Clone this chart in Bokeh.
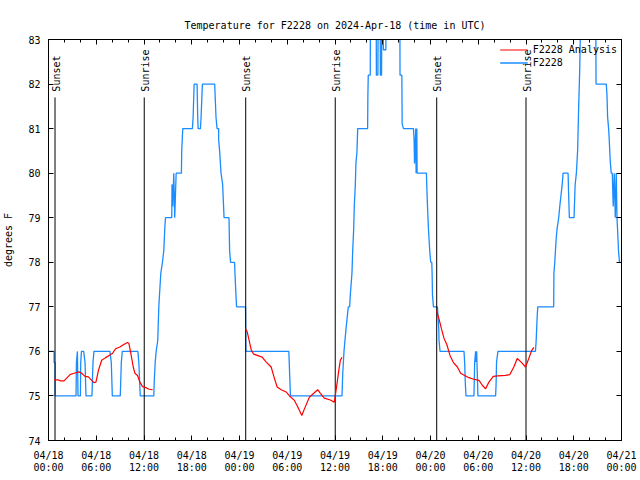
from math import pi, nan
from bokeh.plotting import figure
from bokeh.models import Range1d, FixedTicker, LinearAxis, Legend, LegendItem, CustomJSTickFormatter
from bokeh.core.properties import value
from bokeh.embed import file_html
from bokeh.resources import INLINE

# ---------------- data (hours since 2024-04-18 00:00 UTC, degrees F) ----------------
blue_hours = [0.00, 0.70, 0.70, 0.83, 0.83, 3.46, 3.51, 3.63, 3.71, 4.01, 4.05, 4.14, 4.42, 4.59, 4.71,
              5.46, 5.59, 5.71, 7.72, 7.89, 8.02, 9.02, 9.15, 9.27, 11.23, 11.35, 11.53,
              13.23, 13.28, 13.41, 13.53, 13.73, 13.86, 14.11, 14.32, 14.49, 14.61, 14.70,
              15.49, 15.52, 15.61, 15.74, 15.86, 16.04, 16.70, 16.74, 16.87,
              18.08, 18.17, 18.30, 18.67, 18.75, 18.80, 19.09, 19.17, 19.34,
              20.88, 21.05, 21.18, 21.38, 21.38, 21.50, 21.68, 21.88, 22.06,
              22.68, 22.76, 22.88, 23.38, 23.43, 23.56, 23.63, 24.76, 24.81,
              30.20, 30.40, 36.88, 36.97, 37.13, 37.38, 37.67, 37.84, 37.92, 38.13, 38.22, 38.35, 38.42,
              38.55, 38.63, 38.76, 38.85,
              40.10, 40.13, 40.18, 40.43, 40.45, 41.18, 41.20, 41.39, 41.42, 41.68, 41.70, 41.85, 41.88,
              42.06, 42.08, 42.39, 42.42,
              44.15, 44.17, 44.40, 44.44, 44.61, 45.86, 45.94, 45.99, 46.15, 46.19, 46.28, 46.32, 47.49,
              47.53, 47.62, 47.74, 47.91, 48.03, 48.16, 48.20, 48.25, 48.37, 48.87,
              49.04, 49.07, 49.20, 52.21, 52.29, 52.38, 52.46, 53.46, 53.55, 53.67, 53.73, 53.80, 53.88, 53.96,
              56.18, 56.24, 56.30, 56.47, 61.19, 61.28, 61.40, 61.48, 63.48, 63.51, 63.61, 63.78, 63.91,
              64.11, 64.24, 64.54, 64.66, 65.29, 65.36, 65.45, 66.04, 66.17, 66.33, 66.49, 66.62, 66.74, 66.87,
              68.77, 68.80, 70.09, 70.18, 70.25, 70.38, 70.46, 70.59, 70.71, 70.84, 70.96, 71.09, 71.22,
              71.34, 71.43, 71.50, 71.63, 71.75, 71.97]
blue_temps = [76.0, 76.0, 75.75, 75.75, 75.0, 75.0, 75.75, 76.0, 75.0, 75.0, 75.75, 76.0, 76.0, 75.75, 75.0,
              75.0, 75.75, 76.0, 76.0, 75.75, 75.0, 75.0, 75.75, 76.0, 76.0, 75.75, 75.0,
              75.0, 75.29, 75.76, 76.0, 76.25, 77.0, 77.75, 78.0, 78.27, 78.76, 79.0,
              79.0, 79.75, 79.25, 80.0, 79.0, 80.0, 80.0, 80.5, 81.0,
              81.0, 81.25, 82.0, 82.0, 81.25, 81.0, 81.0, 81.25, 82.0,
              82.0, 81.25, 81.0, 81.0, 80.75, 80.5, 80.0, 79.75, 79.0,
              79.0, 78.25, 78.0, 78.0, 77.75, 77.25, 77.0, 77.0, 76.0,
              76.0, 75.0, 75.0, 75.5, 76.0, 76.5, 77.0, 77.0, 77.26, 77.75, 78.24, 78.76, 79.25,
              79.73, 80.22, 80.48, 81.0,
              81.0, 81.72, 82.2, 82.2, 83.5, 83.5, 82.2, 82.2, 83.5, 83.5, 82.2, 82.2, 83.5,
              83.5, 82.77, 82.77, 83.5,
              83.5, 82.2, 82.2, 81.1, 81.0, 81.0, 80.75, 80.22, 81.0, 80.0, 81.0, 80.0, 80.0,
              79.73, 79.27, 78.76, 78.24, 78.0, 78.0, 77.77, 77.26, 77.0, 77.0,
              76.5, 76.25, 76.0, 76.0, 75.76, 75.27, 75.0, 75.0, 75.76, 76.0, 75.76, 76.0, 75.5, 75.0,
              75.0, 75.25, 75.76, 76.0, 76.0, 76.25, 76.77, 77.0, 77.0, 77.77, 77.98, 78.5, 78.76,
              79.0, 79.25, 79.73, 80.0, 80.0, 79.5, 79.0, 79.0, 79.73, 80.0, 80.52, 81.5, 82.25, 83.5,
              83.5, 82.0, 82.0, 81.73, 81.27, 81.0, 80.75, 80.26, 80.0, 80.0, 79.25, 80.0, 79.0,
              80.0, 79.0, 78.76, 78.24, 78.0, 78.0]

red_hours_1 = [0.70, 1.25, 1.45, 1.95, 2.71, 3.21, 3.83, 4.17, 4.59, 5.01, 5.43, 5.71, 5.96, 6.27, 6.68,
               7.18, 7.72, 8.06, 8.43, 8.97, 9.40, 9.94, 10.10, 10.35, 10.65, 10.85, 11.19, 11.48,
               11.82, 12.32, 12.66, 13.07]
red_temps_1 = [75.36, 75.36, 75.34, 75.34, 75.48, 75.51, 75.54, 75.51, 75.44, 75.43, 75.35, 75.30, 75.31,
               75.57, 75.80, 75.86, 75.92, 75.96, 76.06, 76.10, 76.15, 76.20, 76.18, 75.95, 75.65, 75.51,
               75.46, 75.31, 75.21, 75.18, 75.15, 75.14]
red_hours_2 = [24.76, 24.97, 25.26, 25.48, 25.76, 26.23, 26.85, 27.36, 27.98, 28.40, 28.73, 29.24, 29.86,
               30.28, 30.90, 31.33, 31.83, 32.16, 32.78, 33.33, 33.83, 34.16, 34.66, 35.41, 35.91, 36.04,
               36.25, 36.47, 36.67, 36.88]
red_temps_2 = [76.51, 76.44, 76.21, 76.03, 75.94, 75.91, 75.87, 75.76, 75.65, 75.39, 75.20, 75.14, 75.09,
               75.00, 74.90, 74.75, 74.56, 74.71, 74.97, 75.06, 75.14, 75.06, 74.95, 74.91, 74.86, 75.01,
               75.27, 75.57, 75.80, 75.87]
red_hours_3 = [48.78, 49.07, 49.37, 49.70, 50.04, 50.45, 50.88, 51.38, 51.79, 52.29, 52.83, 53.55, 54.09,
               54.51, 54.92, 55.34, 55.89, 56.47, 57.43, 57.97, 58.47, 58.90, 59.40, 59.94, 60.35, 60.69,
               60.98]
red_temps_3 = [76.91, 76.73, 76.51, 76.29, 76.16, 75.91, 75.75, 75.65, 75.51, 75.46, 75.41, 75.37, 75.35,
               75.24, 75.16, 75.31, 75.44, 75.45, 75.46, 75.48, 75.65, 75.84, 75.76, 75.65, 75.84, 76.01,
               76.09]

event_hours = [0.82, 12.03, 24.78, 36.03, 48.78, 60.0]
event_labels = ["Sunset", "Sunrise", "Sunset", "Sunrise", "Sunset", "Sunrise"]

x_tick_hours = [0, 6, 12, 18, 24, 30, 36, 42, 48, 54, 60, 66, 72]
x_tick_labels = ["04/18\n00:00", "04/18\n06:00", "04/18\n12:00", "04/18\n18:00",
                 "04/19\n00:00", "04/19\n06:00", "04/19\n12:00", "04/19\n18:00",
                 "04/20\n00:00", "04/20\n06:00", "04/20\n12:00", "04/20\n18:00",
                 "04/21\n00:00"]
x_minor_hours = [h for h in range(0, 73, 2) if h % 6 != 0]
y_ticks = [74, 75, 76, 77, 78, 79, 80, 81, 82, 83]

# ---------------- styling ----------------
FONT = "DejaVu Sans Mono"
FS = "10px"
BLUE = "#1a8cff"
RED = "#ff0000"
EVENT_TOP = 81.7
EVENT_LABEL_Y = 81.83

p = figure(width=640, height=480, output_backend="svg", toolbar_location=None,
           x_range=Range1d(0, 72), y_range=Range1d(74, 83),
           min_border_left=47, min_border_right=19, min_border_top=39, min_border_bottom=40,
           title="Temperature for F2228 on 2024-Apr-18 (time in UTC)")
p.title.text_font = FONT
p.title.text_font_size = FS
p.title.text_font_style = "normal"
p.title.text_color = "black"
p.title.align = "center"
p.title.standoff = 17
p.xgrid.visible = False
p.ygrid.visible = False
p.outline_line_color = "black"
p.outline_line_alpha = 1.0
p.background_fill_color = "white"
p.border_fill_color = "white"

xt = FixedTicker(ticks=x_tick_hours, minor_ticks=x_minor_hours)
yt = FixedTicker(ticks=y_ticks, minor_ticks=[])


def style_axis(ax):
    ax.axis_line_color = "black"
    ax.major_tick_in = 5
    ax.major_tick_out = 0
    ax.minor_tick_in = 3
    ax.minor_tick_out = 0
    ax.major_tick_line_color = "black"
    ax.minor_tick_line_color = "black"
    ax.major_label_text_font = FONT
    ax.major_label_text_font_size = FS
    ax.major_label_text_color = "black"
    ax.axis_label_text_font = FONT
    ax.axis_label_text_font_size = FS
    ax.axis_label_text_font_style = "normal"
    ax.axis_label_text_color = "black"


xa = p.xaxis[0]
xa.ticker = xt
style_axis(xa)
xa.major_label_overrides = {h: lab for h, lab in zip(x_tick_hours, x_tick_labels)}
xa.major_label_standoff = 9
xa.major_label_text_line_height = 1.1

ya = p.yaxis[0]
ya.ticker = yt
style_axis(ya)
ya.major_label_standoff = 8
ya.axis_label = "degrees F"
ya.axis_label_standoff = 11

blank = CustomJSTickFormatter(code="return ''")
top_ax = LinearAxis(ticker=xt, formatter=blank, major_label_standoff=0)
style_axis(top_ax)
p.add_layout(top_ax, "above")
right_ax = LinearAxis(ticker=yt, formatter=CustomJSTickFormatter(code="return ''"),
                      major_label_standoff=0)
style_axis(right_ax)
p.add_layout(right_ax, "right")

# data lines
r_blue = p.line(blue_hours, blue_temps, line_color=BLUE, line_width=1.3)

p.segment(x0=event_hours, y0=[74] * len(event_hours), x1=event_hours,
          y1=[EVENT_TOP] * len(event_hours), line_color="black", line_width=1)
p.text(x=event_hours, y=[EVENT_LABEL_Y] * len(event_hours), text=event_labels,
       angle=pi / 2, text_align="left", text_baseline="middle", x_offset=1,
       text_font=value(FONT), text_font_size=FS, text_color="black")

red_hours = red_hours_1 + [nan] + red_hours_2 + [nan] + red_hours_3
red_temps = red_temps_1 + [nan] + red_temps_2 + [nan] + red_temps_3
r_red = p.line(red_hours, red_temps, line_color=RED, line_width=1.2)

legend = Legend(items=[LegendItem(label="F2228 Analysis", renderers=[r_red]),
                       LegendItem(label="F2228", renderers=[r_blue])],
                location="top_right", label_text_font=FONT, label_text_font_size=FS,
                label_text_color="black",
                glyph_width=28, glyph_height=13, label_height=13, spacing=0,
                padding=4, margin=0, background_fill_alpha=0, border_line_alpha=0,
                label_standoff=5)
p.add_layout(legend)

open("out.html", "w").write(file_html(p, INLINE))
